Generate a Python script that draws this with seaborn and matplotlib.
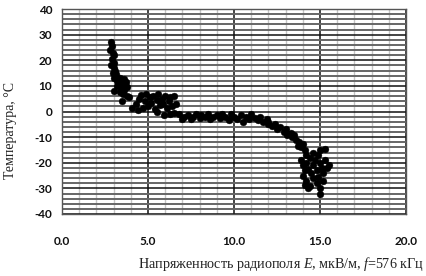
import matplotlib
matplotlib.use("Agg")
import matplotlib.pyplot as plt
from matplotlib.ticker import MultipleLocator
import seaborn as sns
import pandas as pd

E = [2.85, 2.9, 2.8, 2.95, 3.0, 2.9, 3.05, 2.85, 3.0, 3.1, 2.95, 3.15, 3.05, 3.2,
     3.4, 3.6, 3.3, 3.5, 3.7, 3.2, 3.45, 3.6, 3.8, 3.0, 3.35, 3.55, 3.75, 3.9, 3.5, 4.05,
     4.3, 4.5, 4.6, 4.8, 4.9, 5.0, 5.1, 5.2, 5.3, 5.4, 5.5, 5.6, 5.7, 5.8, 5.9, 6.0,
     6.1, 6.2, 6.3, 6.4, 6.5, 6.5, 5.5, 4.7, 6.6, 6.3, 4.4, 5.95,
     6.8, 7.0, 7.1, 7.3, 7.5, 7.6, 7.8, 8.0, 8.1, 8.3, 8.5, 8.6, 8.8, 9.0, 9.2, 9.3,
     9.5, 9.7, 9.8, 10.0, 10.2, 10.4, 10.5, 10.7, 10.9, 11.0, 11.2, 11.4, 11.5, 11.7,
     11.9, 12.0,
     12.0, 12.2, 12.4, 12.5, 12.7, 12.9, 13.0, 13.1, 13.3, 13.4, 13.5, 13.6, 13.8,
     13.7, 13.9, 14.0, 14.1, 14.2,
     13.9, 14.0, 14.1, 14.2, 14.3, 14.4, 14.5, 14.6, 14.7, 14.8, 14.9, 15.0, 15.1,
     15.2, 15.3, 15.4, 14.0, 14.2, 14.4, 14.6, 14.8, 15.0, 15.2, 14.3, 15.0, 14.1,
     14.9, 15.5, 15.3, 15.0, 14.6]
T = [27, 25.5, 24, 23, 22, 20.5, 19, 18, 17, 16, 15, 14.5, 13, 12,
     13, 12.5, 11, 10.5, 11.5, 10, 9, 8.5, 9.5, 8, 7.5, 7, 6, 5.5, 4, 1.5,
     3, 5, 6.5, 4, 7, 2, 5.5, 3.5, 6, 1, 4.5, 7, 2.5, 5, 3, 6,
     1.5, 4, 5.5, 2, 6, -0.5, 0, 1.5, 3, -1, 0.5, -1.5,
     -1, -3, -2, -1.5, -3, -2, -1, -2.5, -1.5, -2, -1, -3, -2, -1.5, -2.5, -1,
     -2, -3.5, -1, -2, -3, -1.5, -4, -2, -3, -1, -2.5, -3.5, -2, -4,
     -3, -5,
     -4, -5.5, -5, -7, -6, -8, -7, -9, -8.5, -10, -9, -11, -12,
     -13.5, -14, -12.5, -15, -17,
     -19, -21, -23, -20, -22.5, -18, -24, -21, -19, -23, -17, -20, -22,
     -24, -19, -22, -25, -27, -29, -26, -28, -30, -27, -30, -32, -28.5,
     -25.5, -21, -14.5, -15, -16]

xticks = [0.0, 5.0, 10.0, 15.0, 20.0]
xticklabels = ["0.0", "5.0", "10.0", "15.0", "20.0"]
yticks = [40, 30, 20, 10, 0, -10, -20, -30, -40]

df = pd.DataFrame({"E": E, "T": T})

sns.set_style("white")
plt.rcParams["mathtext.fontset"] = "custom"
plt.rcParams["mathtext.rm"] = "Liberation Serif"
plt.rcParams["mathtext.it"] = "Liberation Serif:italic"

fig = plt.figure(figsize=(4.26, 2.76), dpi=100)
ax = fig.add_axes([62 / 426, 1 - 214 / 276, 344 / 426, 205 / 276])

ax.set_xlim(0, 20)
ax.set_ylim(-40, 40)
ax.xaxis.set_minor_locator(MultipleLocator(1))
ax.yaxis.set_minor_locator(MultipleLocator(2))
ax.grid(which="minor", axis="x", color="#c4c4c4", lw=1.0)
ax.grid(which="minor", axis="y", color="#666666", lw=1.4)
ax.grid(which="major", axis="both", color="#111111", lw=1.1)
ax.set_axisbelow(True)

sns.scatterplot(data=df, x="E", y="T", ax=ax, color="black", s=24,
                edgecolor="black", linewidth=0.3, zorder=3, legend=False)

ax.set_xticks(xticks)
ax.set_xticklabels(xticklabels)
ax.set_yticks(yticks)
ax.set_yticklabels([str(v) for v in yticks])
for lab in ax.get_xticklabels() + ax.get_yticklabels():
    lab.set_fontfamily("Lato")
    lab.set_fontweight("bold")
    lab.set_fontsize(8.5)
    lab.set_color("#111111")
ax.tick_params(axis="x", which="both", length=0, pad=16)
ax.tick_params(axis="y", which="major", length=4, width=0.8, color="#333333", pad=3)
ax.tick_params(axis="y", which="minor", length=0)

for s in ax.spines.values():
    s.set_color("#555555")
    s.set_linewidth(1.0)

ax.set_xlabel(r"Напряженность радиополя $\mathit{E}$, мкВ/м, $\mathit{f}$=576 кГц",
              family="Liberation Serif", fontsize=10.2, color="#222222")
ax.xaxis.set_label_coords(0.637, -0.2)
ax.set_ylabel("Температура, °C", family="Liberation Serif", fontsize=10, color="#222222")
ax.yaxis.set_label_coords(-0.13, 0.405)

fig.savefig("out.png", dpi=100)
